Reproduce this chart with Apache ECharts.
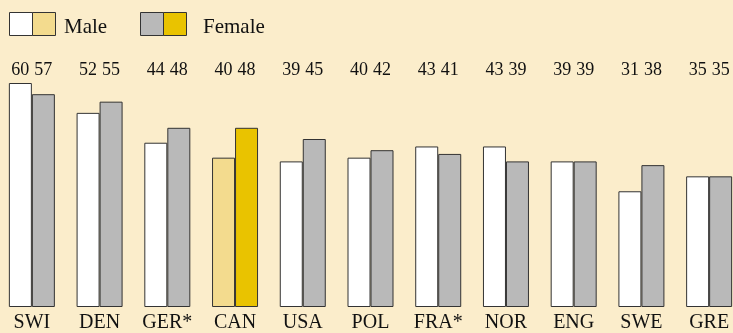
<!DOCTYPE html>
<html>
<head>
<meta charset="utf-8">
<script src="https://cdn.jsdelivr.net/npm/echarts@6/dist/echarts.min.js"></script>
<style>
html,body{margin:0;padding:0;background:#FBEDCB;overflow:hidden;width:733px;height:333px;}
#chart{position:absolute;left:-2px;top:0;width:745px;height:333px;}
</style>
</head>
<body>
<div id="chart"></div>
<script>
const countries = ['SWI','DEN','GER*','CAN','USA','POL','FRA*','NOR','ENG','SWE','GRE'];
const maleValues = [60,52,44,40,39,40,43,43,39,31,35];
const femaleValues = [57,55,48,48,45,42,41,39,39,38,35];
const highlightCountry = 'CAN';

const serif = '"Liberation Serif","DejaVu Serif",serif';
const maleColor = '#FFFFFF', maleHi = '#F3DB8E';
const femaleColor = '#B9B9B9', femaleHi = '#E9C300';

function items(vals, base, hi) {
  return vals.map((v, i) => countries[i] === highlightCountry
    ? { value: v, itemStyle: { color: hi } }
    : { value: v, itemStyle: { color: base } });
}

const chart = echarts.init(document.getElementById('chart'));
chart.setOption({
  backgroundColor: '#FBEDCB',
  animation: false,
  grid: { left: 0, right: 0, top: 83, bottom: 24 },
  xAxis: [
    {
      type: 'category', data: countries, position: 'bottom',
      axisLine: { show: false }, axisTick: { show: false },
      axisLabel: { color: '#111', fontFamily: serif, fontSize: 20, margin: 6, interval: 0 }
    },
    {
      type: 'category', data: countries, position: 'top',
      axisLine: { show: false }, axisTick: { show: false },
      axisLabel: {
        interval: 0, margin: 4,
        formatter: (v, i) => '{a|' + maleValues[i] + '}{b|' + femaleValues[i] + '}',
        rich: {
          a: { width: 23, align: 'center', fontFamily: serif, fontSize: 18, color: '#111' },
          b: { width: 23, align: 'center', fontFamily: serif, fontSize: 18, color: '#111' }
        }
      }
    }
  ],
  yAxis: { type: 'value', min: 0, max: 60, show: false, splitLine: { show: false } },
  series: [
    {
      name: 'Male', type: 'bar', barWidth: 23, barGap: '0%',
      itemStyle: { borderColor: '#333', borderWidth: 1 },
      data: items(maleValues, maleColor, maleHi)
    },
    {
      name: 'Female', type: 'bar', barWidth: 23, barGap: '0%',
      itemStyle: { borderColor: '#333', borderWidth: 1 },
      data: items(femaleValues, femaleColor, femaleHi)
    }
  ],
  graphic: [
    { type: 'rect', shape: { x: 11.5, y: 12.5, width: 23, height: 23 }, style: { fill: maleColor, stroke: '#333', lineWidth: 1 } },
    { type: 'rect', shape: { x: 34.5, y: 12.5, width: 23, height: 23 }, style: { fill: maleHi, stroke: '#333', lineWidth: 1 } },
    { type: 'text', x: 66, y: 27, style: { text: 'Male', font: '21px ' + serif, fill: '#111', verticalAlign: 'middle' } },
    { type: 'rect', shape: { x: 142.5, y: 12.5, width: 23, height: 23 }, style: { fill: femaleColor, stroke: '#333', lineWidth: 1 } },
    { type: 'rect', shape: { x: 165.5, y: 12.5, width: 23, height: 23 }, style: { fill: femaleHi, stroke: '#333', lineWidth: 1 } },
    { type: 'text', x: 205, y: 27, style: { text: 'Female', font: '21px ' + serif, fill: '#111', verticalAlign: 'middle' } }
  ]
});
</script>
</body>
</html>
